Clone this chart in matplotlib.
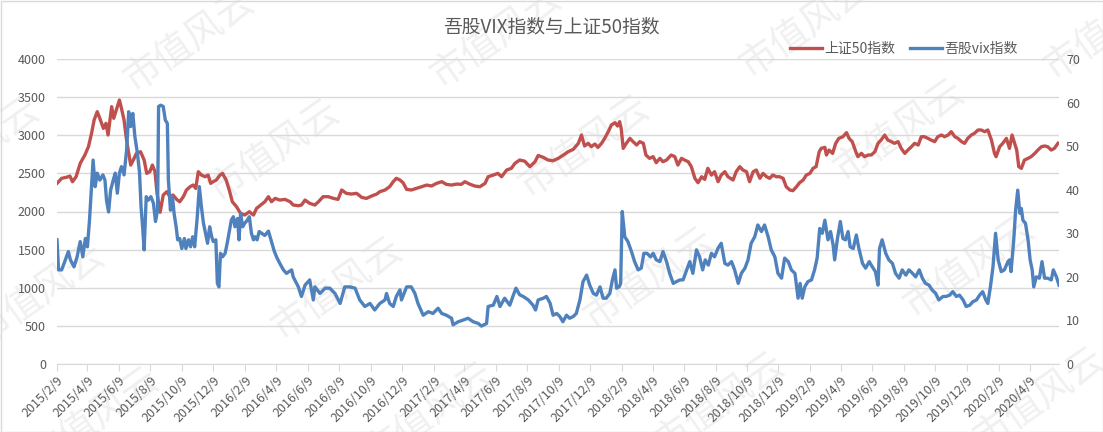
import datetime as dt
import matplotlib
matplotlib.use('Agg')
import matplotlib.pyplot as plt
from matplotlib.patches import Rectangle

plt.rcParams['font.family'] = ['Noto Sans CJK SC', 'DejaVu Sans']

# ====== data ======
START = dt.date(2015, 2, 9)

# 上证50指数 : day offset from START, index level
sz50_days = [0, 9, 19, 25, 30, 37, 45, 54, 61, 67, 72, 78, 83, 90, 95, 99, 106, 110, 116, 121,
             125, 130, 134, 138, 143, 148, 154, 162, 169, 174, 180, 185, 190, 194, 200, 206, 213,
             219, 225, 232, 238, 245, 251, 258, 264, 269, 274, 280, 287, 293, 298, 303, 309, 316,
             321, 328, 334, 340, 348, 356, 364, 373, 381, 387, 395, 403, 410, 416, 423, 432, 442,
             452, 458, 468, 474, 481, 490, 500, 507, 516, 526, 536, 545, 552, 561, 571, 581, 591,
             600, 610, 620, 626, 636, 645, 652, 658, 665, 671, 678, 687, 697, 707, 717, 726, 736,
             746, 755, 765, 775, 784, 791, 800, 810, 820, 830, 836, 846, 855, 862, 872, 881, 888,
             897, 907, 917, 927, 933, 943, 952, 962, 972, 982, 991, 1001, 1011, 1017, 1023, 1030,
             1036, 1043, 1049, 1056, 1062, 1069, 1075, 1082, 1087, 1091, 1094, 1098, 1104, 1111,
             1117, 1124, 1130, 1137, 1142, 1149, 1156, 1162, 1169, 1175, 1182, 1191, 1198, 1204,
             1211, 1217, 1224, 1230, 1237, 1243, 1250, 1256, 1262, 1269, 1275, 1282, 1288, 1295,
             1301, 1311, 1317, 1324, 1330, 1337, 1343, 1350, 1356, 1363, 1369, 1376, 1382, 1388,
             1395, 1401, 1408, 1414, 1421, 1427, 1434, 1440, 1447, 1453, 1460, 1466, 1472, 1478,
             1482, 1489, 1492, 1497, 1504, 1510, 1516, 1524, 1531, 1536, 1542, 1549, 1553, 1560,
             1566, 1573, 1579, 1586, 1592, 1598, 1605, 1611, 1618, 1624, 1631, 1637, 1644, 1650,
             1657, 1663, 1670, 1676, 1682, 1689, 1695, 1702, 1708, 1715, 1721, 1728, 1734, 1741,
             1747, 1754, 1760, 1766, 1773, 1779, 1786, 1792, 1799, 1805, 1812, 1818, 1821, 1828,
             1834, 1841, 1847, 1852, 1857, 1861, 1865, 1870, 1876, 1883, 1889, 1896, 1902, 1909,
             1915, 1921, 1928, 1934, 1941]
sz50_vals = [2369, 2435, 2450, 2465, 2390, 2456, 2631, 2740, 2850, 3025, 3200, 3309, 3222, 3090,
             3156, 3003, 3375, 3222, 3353, 3462, 3353, 3200, 2981, 2806, 2609, 2675, 2762, 2784,
             2675, 2500, 2522, 2609, 2522, 2238, 1990, 2216, 2260, 2194, 2216, 2159, 2128, 2194,
             2282, 2325, 2347, 2303, 2522, 2478, 2456, 2478, 2369, 2391, 2413, 2478, 2500, 2413,
             2282, 2128, 2063, 1975, 1954, 1997, 1954, 2041, 2085, 2128, 2194, 2128, 2172, 2150,
             2159, 2128, 2085, 2076, 2085, 2150, 2107, 2085, 2128, 2194, 2194, 2172, 2159, 2282,
             2238, 2229, 2238, 2185, 2172, 2203, 2229, 2260, 2282, 2325, 2391, 2435, 2413, 2378,
             2290, 2282, 2303, 2325, 2347, 2334, 2369, 2391, 2356, 2347, 2360, 2356, 2391, 2360,
             2334, 2325, 2369, 2456, 2478, 2500, 2456, 2544, 2566, 2631, 2675, 2660, 2588, 2653,
             2735, 2710, 2675, 2666, 2697, 2741, 2784, 2815, 2894, 3003, 2859, 2894, 2850, 2885,
             2841, 2894, 2959, 3047, 3134, 3165, 3121, 3178, 3090, 2828, 2894, 2959, 2916, 2872,
             2916, 2894, 2741, 2697, 2719, 2640, 2697, 2653, 2675, 2741, 2719, 2609, 2697, 2675,
             2653, 2588, 2435, 2378, 2456, 2421, 2566, 2478, 2522, 2391, 2478, 2522, 2456, 2413,
             2522, 2588, 2544, 2522, 2391, 2522, 2544, 2435, 2500, 2456, 2435, 2478, 2456, 2456,
             2435, 2325, 2282, 2273, 2325, 2378, 2413, 2478, 2500, 2566, 2588, 2784, 2828, 2841,
             2741, 2806, 2762, 2894, 2959, 2981, 3034, 2959, 2916, 2784, 2719, 2762, 2719, 2741,
             2741, 2784, 2894, 2937, 3003, 2937, 2916, 2894, 2916, 2828, 2762, 2806, 2850, 2894,
             2872, 2981, 2981, 2959, 2937, 2916, 2981, 3003, 2981, 3003, 3047, 2981, 2959, 2916,
             2894, 2959, 3003, 3025, 3069, 3069, 3047, 3069, 2937, 2762, 2719, 2850, 2894, 2959,
             2828, 3003, 2894, 2806, 2588, 2566, 2675, 2697, 2719, 2762, 2806, 2850, 2859, 2850,
             2806, 2828, 2894]

# 吾股vix指数 : day offset from START, index level
vix_days = [0, 3, 9, 15, 22, 26, 33, 39, 45, 50, 55, 59, 63, 67, 70, 74, 78, 83, 89, 93, 96, 100,
            104, 109, 113, 117, 121, 125, 130, 135, 139, 143, 147, 151, 156, 160, 163, 166, 169,
            173, 177, 182, 187, 191, 195, 197, 201, 206, 210, 214, 216, 220, 224, 227, 231, 234,
            238, 242, 247, 250, 255, 259, 263, 267, 272, 276, 280, 284, 288, 292, 296, 300, 303,
            308, 311, 314, 317, 321, 326, 330, 335, 338, 342, 345, 350, 353, 356, 360, 364, 369,
            373, 377, 381, 384, 388, 392, 397, 403, 410, 416, 421, 426, 432, 439, 445, 455, 458,
            468, 474, 481, 490, 497, 500, 510, 520, 529, 539, 549, 558, 568, 578, 587, 597, 607,
            616, 626, 636, 639, 645, 652, 658, 665, 668, 678, 687, 694, 700, 710, 720, 729, 739,
            746, 755, 765, 768, 778, 788, 797, 807, 817, 823, 833, 836, 846, 853, 859, 868, 878,
            884, 890, 897, 904, 914, 923, 928, 933, 943, 949, 956, 962, 969, 975, 981, 988, 994,
            1001, 1007, 1014, 1020, 1027, 1033, 1040, 1046, 1053, 1059, 1065, 1072, 1077, 1082,
            1085, 1090, 1093, 1096, 1101, 1107, 1114, 1120, 1127, 1133, 1138, 1144, 1151, 1156,
            1162, 1169, 1175, 1182, 1188, 1195, 1201, 1208, 1214, 1221, 1227, 1233, 1240, 1246,
            1252, 1257, 1263, 1269, 1275, 1282, 1288, 1295, 1301, 1308, 1314, 1321, 1327, 1334,
            1340, 1346, 1353, 1359, 1366, 1372, 1379, 1385, 1392, 1398, 1405, 1411, 1418, 1424,
            1431, 1437, 1441, 1445, 1450, 1456, 1463, 1469, 1474, 1479, 1484, 1489, 1495, 1500,
            1505, 1508, 1513, 1519, 1524, 1529, 1534, 1538, 1544, 1550, 1555, 1562, 1568, 1575,
            1581, 1587, 1592, 1595, 1600, 1607, 1613, 1620, 1626, 1633, 1639, 1646, 1652, 1659,
            1665, 1672, 1678, 1684, 1691, 1697, 1704, 1710, 1718, 1724, 1731, 1737, 1744, 1750,
            1757, 1763, 1770, 1776, 1783, 1789, 1795, 1801, 1805, 1810, 1815, 1820, 1825, 1831,
            1837, 1844, 1847, 1850, 1855, 1859, 1863, 1867, 1870, 1873, 1878, 1883, 1887, 1891,
            1894, 1899, 1905, 1910, 1915, 1921, 1928, 1932, 1938, 1943]
vix_vals = [28.5, 21.6, 21.6, 23.5, 25.8, 23.9, 22.3, 24.6, 28.1, 24.6, 28.8, 26.9, 33.0, 40.7,
            46.8, 40.7, 43.8, 42.2, 43.4, 42.2, 37.6, 34.9, 39.9, 42.2, 43.8, 39.2, 43.8, 45.3,
            43.4, 49.1, 57.9, 54.5, 57.5, 52.2, 48.3, 44.0, 36.0, 31.5, 26.2, 38.4, 37.6, 38.4,
            36.9, 32.7, 35.3, 59.1, 59.4, 59.1, 56.0, 55.2, 42.2, 35.3, 38.4, 34.6, 31.5, 28.5,
            28.8, 26.5, 28.8, 26.5, 28.5, 26.9, 29.2, 26.9, 33.8, 40.7, 36.1, 32.3, 30.0, 27.7,
            31.5, 29.2, 28.1, 28.5, 18.5, 17.7, 25.4, 24.6, 25.4, 27.7, 31.1, 33.0, 33.8, 31.5,
            33.4, 28.5, 34.6, 31.5, 32.3, 33.0, 33.8, 30.0, 28.5, 29.2, 28.5, 30.4, 30.0, 29.5,
            30.5, 28.0, 26.0, 24.5, 23.1, 21.6, 20.8, 21.6, 20.0, 17.7, 15.5, 18.1, 19.3, 14.7,
            17.7, 16.2, 17.4, 17.4, 16.2, 13.9, 17.7, 17.7, 17.4, 14.7, 13.2, 13.9, 12.4, 13.9,
            14.7, 16.2, 13.9, 13.2, 15.5, 17.0, 14.7, 17.7, 17.7, 16.2, 13.9, 11.2, 12.0, 11.6,
            12.8, 11.6, 11.2, 10.5, 9.0, 9.7, 10.1, 10.5, 9.7, 9.3, 8.7, 9.3, 13.2, 13.5, 15.5,
            13.2, 15.1, 13.5, 15.5, 17.4, 15.9, 15.5, 14.7, 13.5, 12.4, 14.7, 15.1, 15.5, 14.0,
            11.2, 11.6, 10.9, 9.7, 11.2, 10.5, 10.9, 11.6, 14.7, 18.9, 20.4, 18.1, 16.2, 15.8,
            17.7, 15.1, 15.1, 16.2, 19.3, 21.6, 17.4, 17.7, 18.5, 35.0, 29.2, 28.1, 25.8, 23.5,
            21.6, 22.0, 25.4, 25.4, 24.6, 25.4, 23.9, 23.5, 25.8, 23.5, 20.8, 18.5, 18.9, 19.3,
            19.3, 21.6, 23.5, 20.8, 26.2, 24.6, 21.6, 23.9, 22.7, 25.4, 24.6, 26.6, 27.7, 23.1,
            22.7, 23.5, 21.6, 18.5, 20.8, 22.0, 23.9, 27.7, 29.2, 31.9, 30.4, 31.9, 29.2, 26.2,
            24.6, 20.8, 19.7, 24.3, 23.5, 21.6, 20.8, 15.1, 18.5, 15.1, 17.7, 18.9, 19.3, 21.6,
            24.3, 31.1, 30.0, 33.0, 28.5, 30.4, 27.3, 23.9, 28.5, 32.7, 28.8, 28.5, 30.4, 26.9,
            26.5, 29.6, 26.5, 23.1, 22.0, 23.5, 22.3, 21.2, 18.1, 26.5, 28.5, 25.4, 23.9, 23.1,
            20.8, 19.7, 21.6, 20.4, 21.6, 20.8, 20.0, 21.6, 19.7, 18.5, 18.1, 17.0, 16.2, 14.7,
            15.5, 15.5, 15.8, 16.6, 15.5, 15.8, 14.7, 13.2, 13.5, 14.3, 14.7, 15.8, 16.6, 14.7,
            13.9, 17.7, 22.3, 30.0, 23.9, 21.2, 21.6, 23.5, 23.9, 21.2, 28.1, 35.4, 39.9, 34.6,
            35.7, 33.0, 32.3, 28.5, 23.9, 21.6, 17.7, 20.0, 19.7, 23.5, 19.7, 19.7, 19.3, 21.6,
            20.0, 18.1]

left_ticks = [0, 500, 1000, 1500, 2000, 2500, 3000, 3500, 4000]
right_ticks = [0, 10, 20, 30, 40, 50, 60, 70]

sz50_dates = [START + dt.timedelta(days=d) for d in sz50_days]
vix_dates = [START + dt.timedelta(days=d) for d in vix_days]

# x tick every two months on the 9th
xticks = []
y, m = 2015, 2
while (y, m) <= (2020, 4):
    xticks.append(dt.date(y, m, 9))
    m += 2
    if m > 12:
        m -= 12
        y += 1

GREY = '#595959'
RED = '#C0504D'
BLUE = '#4F81BD'
W, H = 1103, 432

fig = plt.figure(figsize=(W / 100, H / 100), dpi=100)
ax = fig.add_axes([57 / W, 1 - 364 / H, (1059 - 57) / W, (364 - 59) / H])
ax2 = ax.twinx()
ax.patch.set_visible(False)

# watermark 市值风云 (tiled, behind the chart)
wm_pos = [(190, 42), (497, 38), (806, 28), (1110, 30),
          (-25, 150), (275, 152), (585, 148), (900, 132),
          (40, 295), (338, 290), (650, 280), (970, 268),
          (95, 420), (430, 415), (720, 405), (1040, 400)]
for px, py in wm_pos:
    fig.text(px / W, 1 - py / H, '市值风云', fontsize=27, color='#f0f0f0',
             rotation=35, ha='center', va='center', zorder=-1)

l1, = ax.plot(sz50_dates, sz50_vals, color=RED, lw=2.4, label='上证50指数', zorder=3)
l2, = ax2.plot(vix_dates, vix_vals, color=BLUE, lw=2.4, label='吾股vix指数', zorder=3)

ax.set_xlim(START, START + dt.timedelta(days=1943))
ax.set_ylim(0, 4000)
ax2.set_ylim(0, 70)
ax.set_yticks(left_ticks)
ax2.set_yticks(right_ticks)
ax.set_xticks(xticks)
ax.set_xticklabels([f'{d.year}/{d.month}/{d.day}' for d in xticks])

ax.grid(axis='y', color='#d9d9d9', lw=1)
ax.set_axisbelow(True)
for a in (ax, ax2):
    for s in ('left', 'right', 'top', 'bottom'):
        a.spines[s].set_visible(False)
ax.spines['bottom'].set_visible(True)
ax.spines['bottom'].set_color('#d9d9d9')

ax.tick_params(axis='y', length=0, pad=8, labelsize=9, labelcolor=GREY)
ax2.tick_params(axis='y', length=0, pad=5, labelsize=9, labelcolor=GREY)
ax.tick_params(axis='x', length=5, color='#d9d9d9', pad=2, labelsize=9, labelcolor=GREY)
for lab in ax.get_xticklabels():
    lab.set_rotation(45)
    lab.set_ha('right')
    lab.set_rotation_mode('anchor')

fig.text(551 / W, 1 - 27 / H, '吾股VIX指数与上证50指数', ha='center', va='center',
         fontsize=13.5, color=GREY)
fig.legend(handles=[l1, l2], loc='center', bbox_to_anchor=(904 / W, 1 - 49 / H),
           ncol=2, frameon=False, fontsize=10, labelcolor=GREY, handlelength=2.3,
           columnspacing=1.1, handletextpad=0.15)

# chart border
fig.patches.append(Rectangle((0.5 / W, 0.5 / H), 1 - 1 / W, 1 - 1 / H,
                             transform=fig.transFigure, fill=False, edgecolor='#d9d9d9', lw=1))

fig.savefig('out.png', dpi=100)
